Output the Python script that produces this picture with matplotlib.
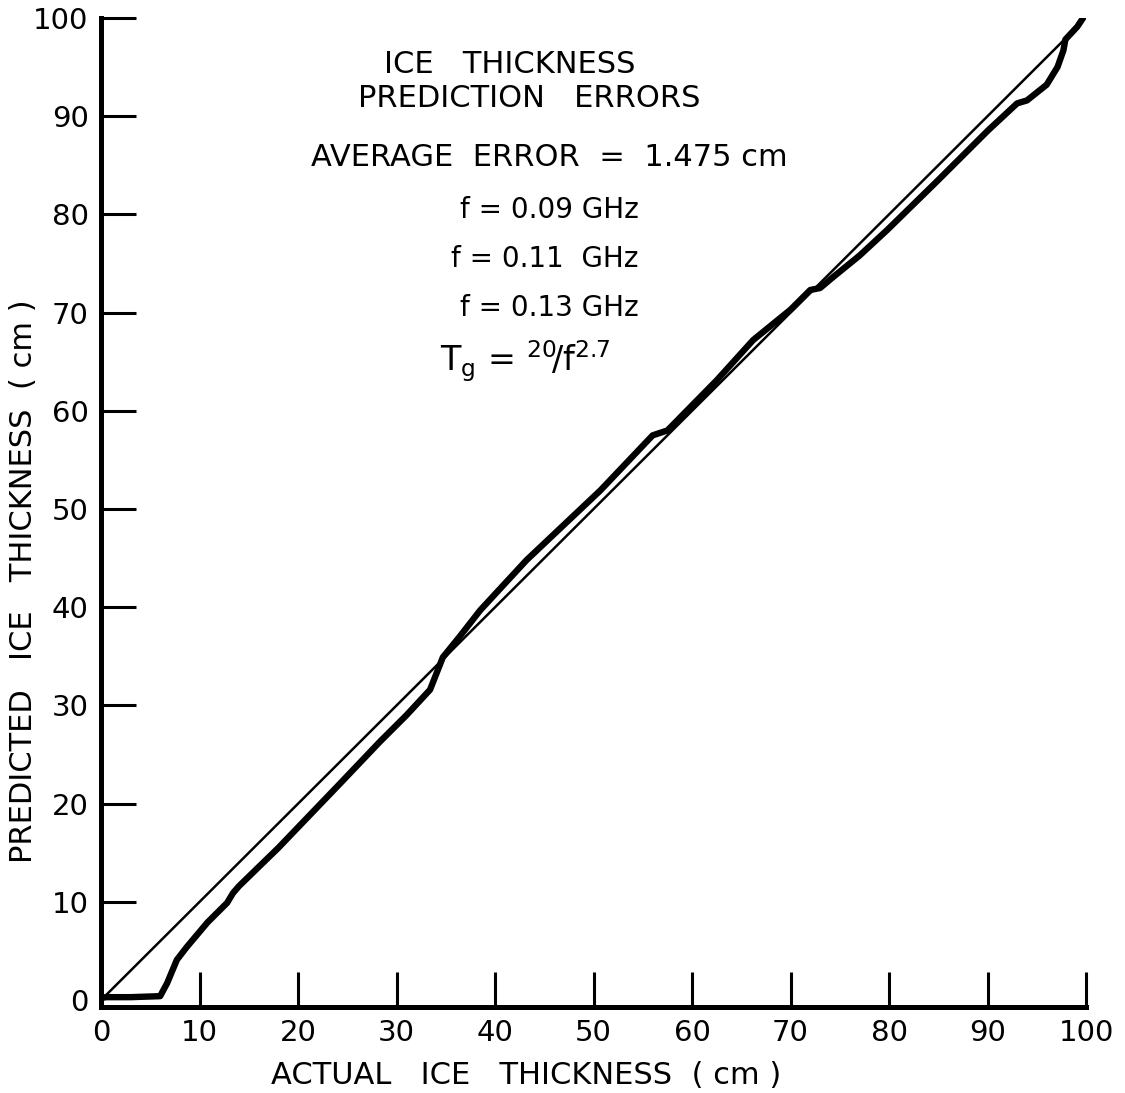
import numpy as np
import matplotlib
matplotlib.use("Agg")
from matplotlib import pyplot as plt

# thick curve: predicted vs actual ice thickness (cm)
actual = [0, 0.5, 3, 6, 6.7, 7.7, 8.7, 10.8, 12.8, 13.4, 14, 18, 24.6, 28.3, 31,
          33.4, 34.7, 36.4, 38.5, 43.2, 50.7, 56, 57.5, 62.5, 66.2, 70, 72, 73,
          74.3, 77, 79.8, 85, 90, 93, 94, 96, 97.1, 97.7, 97.9, 99.1, 99.9]
predicted = [0.2, 0.3, 0.3, 0.4, 1.7, 4.1, 5.4, 7.9, 9.9, 10.9, 11.6, 15.5, 22.4,
             26.3, 29.0, 31.6, 34.9, 37.0, 39.7, 44.8, 51.9, 57.5, 58.0, 63.1,
             67.2, 70.3, 72.3, 72.5, 73.6, 75.8, 78.4, 83.5, 88.5, 91.3, 91.6,
             93.2, 95.0, 96.7, 97.8, 99.1, 100.3]

# thin reference line (perfect prediction)
ref_x = [0, 97.7]
ref_y = [0, 97.7]

ticks = [0, 10, 20, 30, 40, 50, 60, 70, 80, 90, 100]
tick_labels = ["0", "10", "20", "30", "40", "50", "60", "70", "80", "90", "100"]

notes = ["ICE   THICKNESS", "PREDICTION   ERRORS", "AVERAGE  ERROR  =  1.475 cm",
         "f = 0.09 GHz", "f = 0.11  GHz", "f = 0.13 GHz",
         r"T$_\mathregular{g}$ = $^\mathregular{20}\!$/f$^\mathregular{2.7}$"]

plt.rcParams["font.family"] = "DejaVu Sans"
plt.rcParams["mathtext.default"] = "regular"

fig = plt.figure(figsize=(11.25, 10.93), dpi=100)
ax = fig.add_axes([0.0898, 0.0787, 0.8756, 0.9049])

ax.plot(ref_x, ref_y, color="black", lw=1.8, solid_capstyle="round")
ax.plot(actual, predicted, color="black", lw=4.6, solid_capstyle="round",
        solid_joinstyle="round")

ax.set_xlim(0, 100)
ax.set_ylim(-0.7, 100)
for s in ["top", "right"]:
    ax.spines[s].set_visible(False)
for s in ["left", "bottom"]:
    ax.spines[s].set_linewidth(3.6)

ax.set_xticks(ticks)
ax.set_xticklabels(tick_labels)
ax.set_yticks(ticks)
ax.set_yticklabels(tick_labels)
ax.tick_params(direction="in", length=25, width=2.2, labelsize=21, pad=9)
# no tick marks at the origin
ax.xaxis.get_major_ticks()[0].tick1line.set_visible(False)
ax.yaxis.get_major_ticks()[0].tick1line.set_visible(False)

ax.set_xlabel("ACTUAL   ICE   THICKNESS  ( cm )", fontsize=22)
ax.xaxis.set_label_coords(0.432, -0.055)
ax.set_ylabel("PREDICTED   ICE   THICKNESS  ( cm )", fontsize=22)
ax.yaxis.set_label_coords(-0.064, 0.43)

sizes = [22, 22, 22, 20, 20, 20, 24]
xs = [41.5, 43.5, 45.5, 45.5, 45.0, 45.5, 43.0]
ys = [95.3, 91.8, 85.8, 80.4, 75.5, 70.5, 65.0]
for t, x, y, s in zip(notes, xs, ys, sizes):
    ax.text(x, y, t, fontsize=s, ha="center", va="center")

fig.savefig("out.png", dpi=100)
